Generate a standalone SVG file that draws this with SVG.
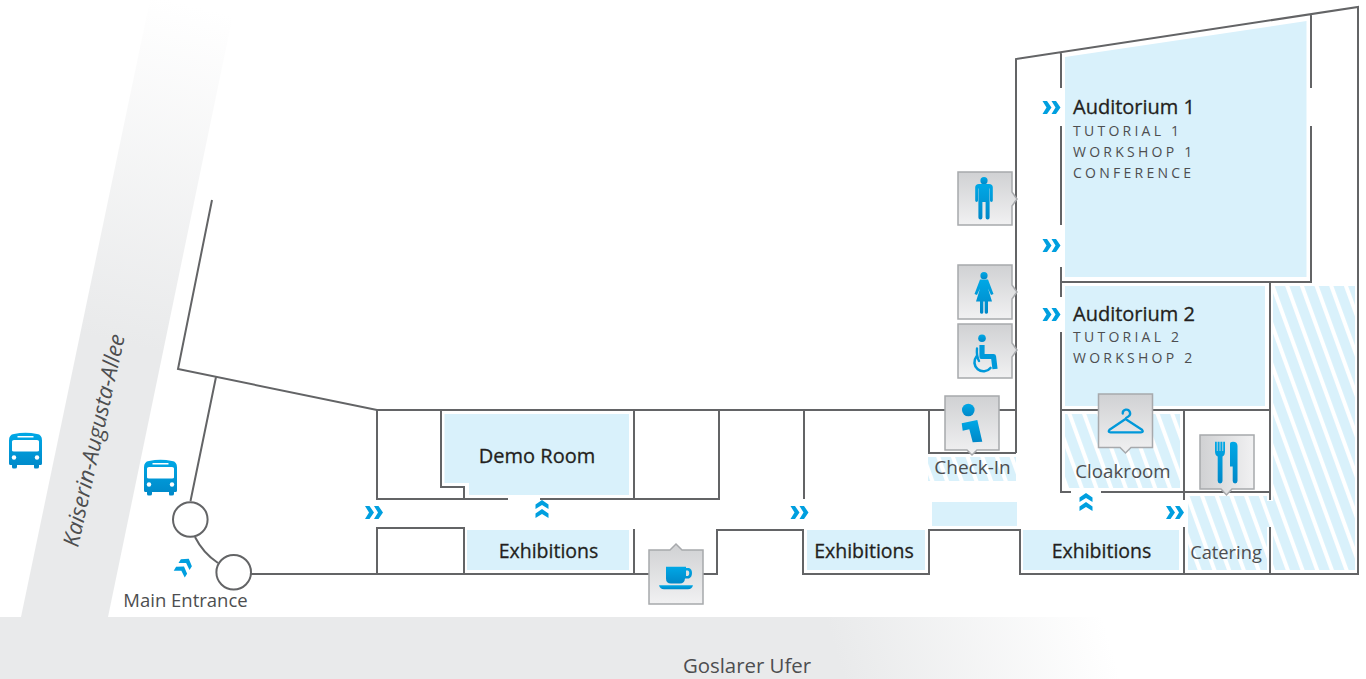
<svg xmlns="http://www.w3.org/2000/svg" width="1366" height="679" viewBox="0 0 1366 679">
<style>
.f{fill:#d9f1fb}
.h{fill:url(#hatch)}
.w{fill:none;stroke:#636466;stroke-width:2}
.t{font-family:"Open Sans","Noto Sans",sans-serif;fill:#4d4e50}
.d{font-size:20px;fill:#231f20;font-weight:500;stroke:#231f20;stroke-width:.3px}
.e{font-size:19.500px;fill:#231f20;font-weight:500;stroke:#231f20;stroke-width:.3px}
.l{font-size:18.700px}
.s{font-size:14px;letter-spacing:3.250px}
.box{fill:url(#boxV);stroke:#a7a9ac;stroke-width:1.500}
.ic{fill:url(#blue)}
.st{fill:none;stroke:url(#blueU);stroke-linecap:round;stroke-linejoin:round}
.ch{fill:#009fdf}
</style>
<defs>
<pattern id="hatch" width="13.800" height="14" patternUnits="userSpaceOnUse" patternTransform="rotate(-20 1273 286)">
<rect width="13.800" height="14" fill="#d9f1fb"/><rect x="1" width="4" height="14" fill="#fff"/>
</pattern>
<linearGradient id="boxV" x1="0" y1="0" x2="0" y2="1"><stop offset="0" stop-color="#d0d1d3"/><stop offset="1" stop-color="#f1f1f2"/></linearGradient>
<linearGradient id="boxH" x1="0" y1="0" x2="1" y2="0"><stop offset="0" stop-color="#d0d1d3"/><stop offset="1" stop-color="#f1f1f2"/></linearGradient>
<linearGradient id="blue" x1="0" y1="0" x2="0" y2="1"><stop offset="0" stop-color="#00a8e6"/><stop offset="1" stop-color="#0088c8"/></linearGradient>
<linearGradient id="blueU" gradientUnits="userSpaceOnUse" x1="0" y1="0" x2="0" y2="679"><stop offset="0" stop-color="#009fdf"/><stop offset="1" stop-color="#0094d6"/></linearGradient>
<linearGradient id="roadV" gradientUnits="userSpaceOnUse" x1="190" y1="5" x2="110" y2="340"><stop offset="0" stop-color="#fff"/><stop offset="1" stop-color="#e9eaeb"/></linearGradient>
<linearGradient id="roadH" gradientUnits="userSpaceOnUse" x1="1105" y1="625" x2="850" y2="700"><stop offset="0" stop-color="#fff"/><stop offset="1" stop-color="#e9eaeb"/></linearGradient>
<path id="chev" d="M0 0h4.500l4.500 6.500-4.500 6.500H0l4-6.500zM9 0h4.500l4.500 6.500-4.500 6.500H9l4-6.500z"/>
<g id="bus">
<path d="M0 8Q0 2 5 1.500Q16.500-.8 28 1.500Q33 2 33 8V31Q33 32.500 31.500 32.500H30V34.500Q30 36 28 36H26Q25 36 25 34.500V32.500H8V34.500Q8 36 6 36H4.500Q3 36 3 34.500V32.500H1.500Q0 32.500 0 31Z" class="ic"/>
<path d="M3 9Q3 7.500 5 7.500H28Q30 7.500 30 9V18Q30 19 28 19H5Q3 19 3 18Z M8.500 3.500H24.500V5H8.500Z" fill="#fff"/>
<circle cx="5" cy="25" r="2.200" fill="#fff"/><circle cx="28" cy="25" r="2.200" fill="#fff"/>
</g>
</defs>

<g id="roads">
<path d="M150 0H236L108 617H21Z" fill="url(#roadV)"/>
<rect x="0" y="617" width="1120" height="62" fill="url(#roadH)"/>
</g>

<g id="areas">
<path class="f" d="M1065 57L1306.500 21V277H1065Z"/>
<rect class="f" x="1065" y="286" width="200" height="120"/>
<path class="f" d="M444.500 414H629V495H469V483H444.500Z"/>
<rect class="f" x="467" y="530" width="162" height="40"/>
<rect class="f" x="807" y="530" width="118" height="40"/>
<rect class="f" x="1023" y="530" width="156" height="40"/>
<rect class="f" x="932" y="502" width="85" height="24"/>
<rect class="h" x="1273" y="286" width="82" height="284"/>
<path class="h" d="M1188 496H1267V501H1273V527H1267V570H1188Z"/>
<rect class="h" x="1065" y="414" width="115" height="74"/>
<rect class="h" x="928" y="457" width="88" height="24"/>
</g>

<g id="walls">
<path class="w" d="M212 200L178 369L377 410H1016M216 377L190.500 501M195 537Q203 553 218 563"/>
<circle class="w" cx="190.300" cy="519.500" r="17.300" style="fill:#fff"/>
<circle class="w" cx="233.700" cy="572.300" r="17.300" style="fill:#fff"/>
<path class="w" d="M1016 453V59L1358 7V574H1020V530H929V574H803V530H717V574H251M1061 52V88M1061 126V225M1061 267V297M1061 332V492H1071M1101 492H1270M1061 282H1311V126M1311 88V14M1270 282V500M1270 527V574M1184 410V500M1184 527V574M1061 410H1270"/>
<path class="w" d="M377 410V499H508M540 499H719V410M441 410V487H464V499M634 410V499M804 410V499M929 410V453H1016M377 574V528H464V574M634 529V574"/>
</g>

<g id="chevrons">
<use href="#chev" class="ch" x="1042.500" y="101"/>
<use href="#chev" class="ch" x="1042.500" y="239"/>
<use href="#chev" class="ch" x="1042.500" y="308"/>
<use href="#chev" class="ch" x="1166" y="506"/>
<use href="#chev" class="ch" x="365" y="506"/>
<use href="#chev" class="ch" x="790.500" y="506"/>
<use href="#chev" class="ch" transform="translate(535.500 518) rotate(-90)"/>
<use href="#chev" class="ch" transform="translate(1079.500 511) rotate(-90)"/>
<use href="#chev" class="ch" transform="translate(184 566.500) rotate(-58) translate(-9 -6.500)"/>
</g>

<g id="bus-stop-1"><use href="#bus" x="9" y="432.500"/></g>
<g id="bus-stop-2"><use href="#bus" x="144" y="459.500"/></g>

<g id="men">
<path class="box" d="M958 172H1012V192L1017 199L1012 206V225H958Z"/>
<circle class="ic" cx="984" cy="180.700" r="3.600"/>
<path class="ic" d="M979 184H989Q992.800 184 992.800 187.500V200.500A1.400 1.400 0 0 1 990 200.500V188.500H989.600V217.500A2 2 0 0 1 985.600 217.500V202H982.400V217.500A2 2 0 0 1 978.400 217.500V188.500H978V200.500A1.400 1.400 0 0 1 975.200 200.500V187.500Q975.200 184 979 184Z"/>
</g>
<g id="women">
<path class="box" d="M958 265H1012V285L1017 292L1012 299V319H958Z"/>
<circle class="ic" cx="984" cy="275.700" r="3.600"/>
<path class="ic" d="M980 279.500H988L993.500 294 991 295 988 288.500 992 301.500H988V312.500A1.700 1.700 0 0 1 984.700 312.500V301.500H983.300V312.500A1.700 1.700 0 0 1 980 312.500V301.500H976L980 288.500 977 295 974.500 294Z"/>
</g>
<g id="accessible">
<path class="box" d="M958 324H1012V343L1017 350L1012 357V378H958Z"/>
<circle class="ic" cx="982" cy="338.300" r="3.800"/>
<path class="st" d="M982 345V356.500H993.500L995 369" stroke-width="5.200" style="stroke-linecap:butt"/>
<path class="st" d="M977 348.500Q976.300 356 979 361" stroke-width="2.400"/>
<path class="st" d="M976.500 356.500A8.200 8.200 0 0 0 990.500 368" stroke-width="2.600"/>
</g>
<g id="info">
<path class="box" d="M945 396H999V450H977L972 455 967 450H945Z"/>
<circle class="ic" cx="968.300" cy="410" r="6.300"/>
<path class="ic" d="M961.700 423.300L977.300 420L982.300 441.700L972.700 442.300L969.300 429.300L962.700 430.700Z"/>
</g>
<g id="cloakroom-icon">
<path class="box" d="M1098.500 394H1152.500V447.500H1131L1125.500 453 1120 447.500H1098.500Z"/>
<path class="st" d="M1122.700 413.500A3.700 3.700 0 1 1 1128.300 416.500Q1125.500 418 1125.500 419L1109.500 429.800Q1107.500 432.300 1110.500 432.300H1141Q1144 432.300 1142 429.800L1125.500 419" stroke-width="2.300"/>
</g>
<g id="catering-icon">
<path class="box" style="fill:url(#boxH)" d="M1200 435H1254V489H1232L1226.500 495 1221 489H1200Z"/>
<path class="ic" d="M1215 441.700H1216.800V451H1217.600V441.700H1219.600V451H1220.400V441.700H1222.400V451H1223.200V441.700H1225V451Q1225 455.500 1222.500 456.500V481A2.400 2.400 0 0 1 1217.700 481V456.500Q1215 455.500 1215 451Z"/>
<path class="ic" d="M1233 441.700Q1237.500 441.700 1237.500 446V481A2.400 2.400 0 0 1 1232.700 481V466.500H1230V444Q1230 441.700 1233 441.700Z"/>
</g>
<g id="coffee">
<path class="box" d="M649 550H670L676 544 682 550H703V604H649Z"/>
<path class="ic" d="M666 566.700H686V568H689Q692 569 692 573Q692 577 689 578.500H685Q684.500 583.500 680 583.500H671Q666 583.500 666 578.500ZM686 570.500V576H688Q689.300 575 689.300 573Q689.300 571 688 570.500Z"/>
<path class="ic" d="M659 585.300H693Q692 589.300 688 589.300H664Q660 589.300 659 585.300Z"/>
</g>

<g id="labels">
<text class="t d" x="1073" y="113.500">Auditorium 1</text>
<text class="t s" x="1073" y="136">TUTORIAL 1</text>
<text class="t s" x="1073" y="157">WORKSHOP 1</text>
<text class="t s" x="1073" y="178">CONFERENCE</text>
<text class="t d" x="1073" y="320.500">Auditorium 2</text>
<text class="t s" x="1073" y="342">TUTORIAL 2</text>
<text class="t s" x="1073" y="363">WORKSHOP 2</text>
<text class="t d" x="537" y="463" text-anchor="middle">Demo Room</text>
<text class="t e" x="548.500" y="558" text-anchor="middle">Exhibitions</text>
<text class="t e" x="864" y="558" text-anchor="middle">Exhibitions</text>
<text class="t e" x="1101.500" y="558" text-anchor="middle">Exhibitions</text>
<text class="t l" x="972.500" y="473.500" text-anchor="middle" style="font-size:19px">Check-In</text>
<text class="t l" x="1123" y="477.500" text-anchor="middle">Cloakroom</text>
<text class="t l" x="1226" y="558.500" text-anchor="middle" style="font-size:18.300px">Catering</text>
<text class="t l" x="185.500" y="606.500" text-anchor="middle" style="font-size:18.500px">Main Entrance</text>
<text class="t l" x="747" y="673" text-anchor="middle" style="font-size:20.400px">Goslarer Ufer</text>
<text class="t l" transform="translate(78 548) rotate(-77.500)" style="font-size:22.200px;font-style:italic">Kaiserin-Augusta-Allee</text>
</g>
</svg>
